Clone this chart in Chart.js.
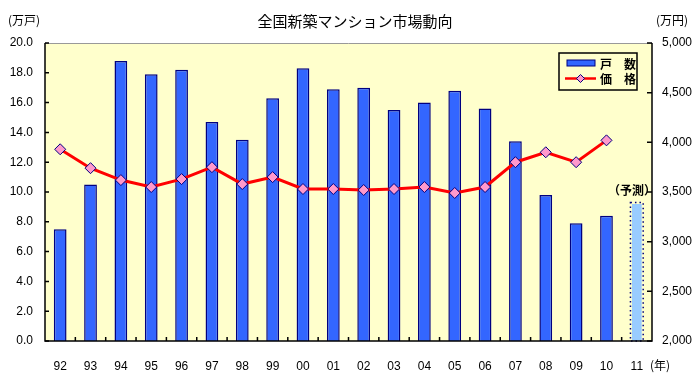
<!DOCTYPE html>
<html>
<head>
<meta charset="utf-8">
<script src="https://cdn.jsdelivr.net/npm/chart.js@4/dist/chart.umd.min.js"></script>
<style>
  html, body { margin: 0; padding: 0; background: #fff; }
  #wrap { width: 700px; height: 380px; }
</style>
</head>
<body>
<div id="wrap"><canvas id="c" width="700" height="380"></canvas></div>
<script>
// --- data ---
const years = ["92", "93", "94", "95", "96", "97", "98", "99", "00", "01",
  "02", "03", "04", "05", "06", "07", "08", "09", "10", "11"];
const units = [7.5, 10.5, 18.8, 17.9, 18.2, 14.7, 13.5, 16.3, 18.3, 16.9,
  17.0, 15.5, 16.0, 16.8, 15.6, 13.4, 9.8, 7.9, 8.4, 9.3]; // 11 = forecast
const prices = [3930, 3740, 3620, 3550, 3630, 3750, 3580, 3650, 3530, 3530,
  3520, 3530, 3550, 3490, 3550, 3800, 3900, 3800, 4020, null];
const forecastIndex = 19;

const leftTicks = [0, 2, 4, 6, 8, 10, 12, 14, 16, 18, 20];
const rightTicks = [2000, 2500, 3000, 3500, 4000, 4500, 5000];

const JP = "'Noto Sans CJK JP', sans-serif";
const NUM = "'Liberation Sans', Arial, sans-serif";

// --- colours ---
const barColors = units.map((v, i) => (i === forecastIndex ? "#99ccff" : "#3366ff"));
const barBorders = units.map((v, i) => (i === forecastIndex ? "rgba(0,0,0,0)" : "#000080"));

// --- plugin: background, inside ticks, labels, legend ---
const decor = {
  id: "decor",
  beforeDraw(chart) {
    const { ctx, chartArea: a } = chart;
    ctx.save();
    ctx.fillStyle = "#ffffcc";
    ctx.fillRect(a.left, a.top, a.right - a.left, a.bottom - a.top);
    ctx.restore();
  },
  afterDatasetsDraw(chart) {
    const { ctx, chartArea: a, scales } = chart;
    ctx.save();

    // dotted outline of forecast bar
    const bar = chart.getDatasetMeta(0).data[forecastIndex];
    if (bar) {
      const w = bar.width;
      ctx.strokeStyle = "#000080";
      ctx.lineWidth = 1.5;
      ctx.setLineDash([1.5, 3]);
      ctx.strokeRect(bar.x - w / 2, bar.y, w, bar.base - bar.y);
      ctx.setLineDash([]);
    }

    // frame
    ctx.strokeStyle = "#999";
    ctx.lineWidth = 1;
    ctx.beginPath();
    ctx.moveTo(a.left, a.top + 0.5);
    ctx.lineTo(a.right, a.top + 0.5);
    ctx.stroke();

    ctx.strokeStyle = "#000";
    ctx.lineWidth = 1.5;
    ctx.beginPath();
    ctx.moveTo(a.left, a.top);
    ctx.lineTo(a.left, a.bottom);
    ctx.lineTo(a.right, a.bottom);
    ctx.lineTo(a.right, a.top);
    ctx.stroke();

    // inside ticks
    ctx.lineWidth = 1.5;
    ctx.beginPath();
    leftTicks.forEach((t) => {
      const y = scales.y.getPixelForValue(t);
      ctx.moveTo(a.left, y);
      ctx.lineTo(a.left + 4, y);
    });
    rightTicks.forEach((t) => {
      const y = scales.y1.getPixelForValue(t);
      ctx.moveTo(a.right, y);
      ctx.lineTo(a.right - 5, y);
    });
    const half = (scales.x.getPixelForValue(1) - scales.x.getPixelForValue(0)) / 2;
    years.forEach((yr, i) => {
      const x = scales.x.getPixelForValue(i) + half;
      if (i < years.length - 1) {
        ctx.moveTo(x, a.bottom);
        ctx.lineTo(x, a.bottom - 4);
      }
    });
    ctx.stroke();

    // legend
    const lx = 559, ly = 53;
    ctx.fillStyle = "#ffffcc";
    ctx.fillRect(lx, ly, 78, 37);
    ctx.strokeStyle = "#000";
    ctx.lineWidth = 1.5;
    ctx.strokeRect(lx, ly, 78, 37);
    ctx.fillStyle = "#3366ff";
    ctx.fillRect(567, 60, 28, 6);
    ctx.strokeStyle = "#000080";
    ctx.lineWidth = 1;
    ctx.strokeRect(567, 60, 28, 6);
    ctx.strokeStyle = "#ff0000";
    ctx.lineWidth = 2.5;
    ctx.beginPath();
    ctx.moveTo(565, 78.5);
    ctx.lineTo(596, 78.5);
    ctx.stroke();
    ctx.fillStyle = "#ff99cc";
    ctx.strokeStyle = "#000080";
    ctx.lineWidth = 1;
    ctx.beginPath();
    ctx.moveTo(580.5, 74.5);
    ctx.lineTo(584.5, 78.5);
    ctx.lineTo(580.5, 82.5);
    ctx.lineTo(576.5, 78.5);
    ctx.closePath();
    ctx.fill();
    ctx.stroke();
    ctx.fillStyle = "#000";
    ctx.font = "bold 12px " + JP;
    ctx.textAlign = "left";
    ctx.textBaseline = "middle";
    ctx.fillText("戸　数", 600, 64);
    ctx.fillText("価　格", 600, 79);

    // forecast note
    ctx.font = "bold 12px " + JP;
    ctx.fillText("（予測）", 608, 190);
    ctx.restore();
  },
  afterDraw(chart) {
    const { ctx } = chart;
    ctx.save();
    ctx.fillStyle = "#000";
    ctx.textBaseline = "middle";
    ctx.textAlign = "center";
    ctx.font = "15px " + JP;
    ctx.fillText("全国新築マンション市場動向", 355, 21);
    ctx.font = "12px " + JP;
    ctx.textAlign = "left";
    ctx.fillText("(万戸)", 8, 20);
    ctx.fillText("(万円)", 656, 20);
    ctx.fillText("(年)", 650, 365);
    ctx.restore();
  }
};

new Chart(document.getElementById("c"), {
  data: {
    labels: years,
    datasets: [
      {
        type: "bar",
        label: "戸数",
        data: units,
        yAxisID: "y",
        backgroundColor: barColors,
        borderColor: barBorders,
        borderWidth: 1.5,
        borderSkipped: "bottom",
        barPercentage: 0.42,
        categoryPercentage: 1.0,
        order: 2
      },
      {
        type: "line",
        label: "価格",
        data: prices,
        yAxisID: "y1",
        borderColor: "#ff0000",
        borderWidth: 3,
        pointStyle: "rectRot",
        pointRadius: 5.5,
        pointBackgroundColor: "#ff99cc",
        pointBorderColor: "#000080",
        pointBorderWidth: 1,
        tension: 0,
        order: 1
      }
    ]
  },
  options: {
    responsive: false,
    animation: false,
    layout: { padding: { top: 43, left: 0, right: 0, bottom: 0 } },
    plugins: {
      legend: { display: false },
      title: { display: false },
      tooltip: { enabled: false }
    },
    scales: {
      x: {
        grid: { display: false, drawTicks: false },
        border: { display: false },
        ticks: { color: "#000", font: { family: NUM, size: 12 }, padding: 18, maxRotation: 0 },
        afterFit(s) { s.height = 39; }
      },
      y: {
        position: "left",
        min: 0,
        max: 20,
        grid: { display: false, drawTicks: false },
        border: { display: false },
        ticks: {
          stepSize: 2,
          color: "#000",
          font: { family: NUM, size: 12 },
          padding: 12,
          callback: (v) => v.toFixed(1)
        },
        afterFit(s) { s.width = 45; }
      },
      y1: {
        position: "right",
        min: 2000,
        max: 5000,
        grid: { display: false, drawTicks: false },
        border: { display: false },
        ticks: {
          stepSize: 500,
          color: "#000",
          font: { family: NUM, size: 12 },
          padding: 10,
          callback: (v) => v.toLocaleString("en-US")
        },
        afterFit(s) { s.width = 48; }
      }
    }
  },
  plugins: [decor]
});
</script>
</body>
</html>
